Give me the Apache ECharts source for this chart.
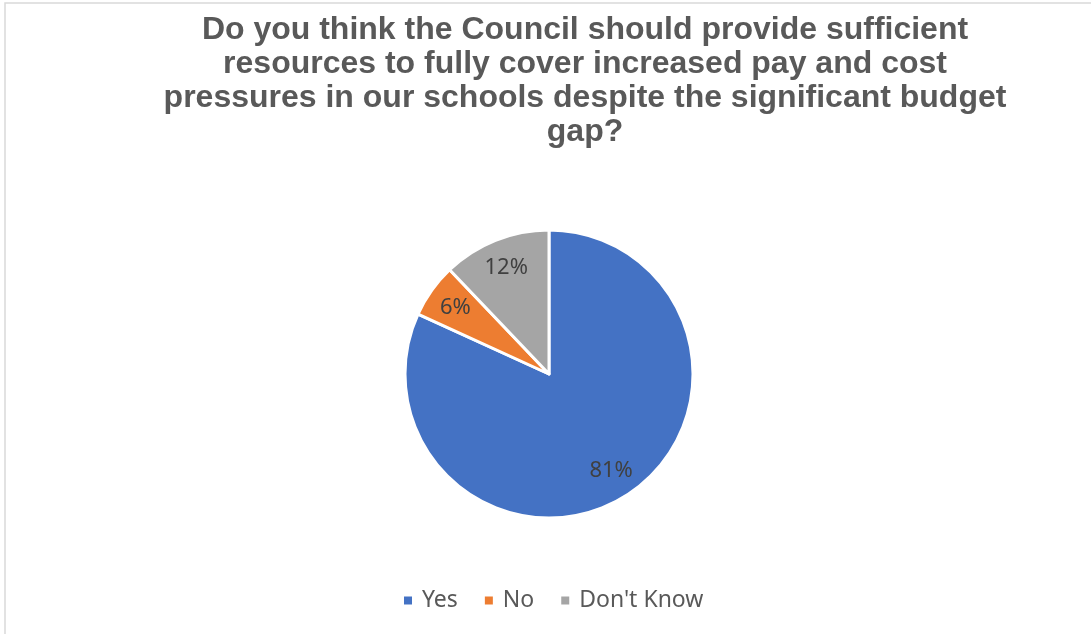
<!DOCTYPE html>
<html>
<head>
<meta charset="utf-8">
<script src="https://cdn.jsdelivr.net/npm/echarts@6/dist/echarts.min.js"></script>
<style>
  html, body { margin: 0; padding: 0; background: #fff; }
  #chart { width: 1091px; height: 634px; }
</style>
</head>
<body>
<div id="chart"></div>
<script>
// Survey answers and their shares (percent)
const categories = ['Yes', 'No', "Don't Know"];
const shares = [81, 6, 12];
const sliceColors = ['#4472C4', '#ED7D31', '#A5A5A5'];
const titleText = 'Do you think the Council should provide sufficient\nresources to fully cover increased pay and cost\npressures in our schools despite the significant budget\ngap?';

const pieData = categories.map((name, i) => ({ name, value: shares[i] }));

const chart = echarts.init(document.getElementById('chart'), null, { renderer: 'canvas' });

chart.setOption({
  backgroundColor: '#ffffff',
  animation: false,
  color: sliceColors,
  title: {
    text: titleText,
    left: 580,
    top: 8,
    textAlign: 'center',
    textStyle: {
      fontFamily: 'Liberation Sans, Arial, sans-serif',
      fontWeight: 'bold',
      fontSize: 32,
      lineHeight: 34,
      color: '#595959'
    }
  },
  legend: {
    data: categories,
    left: 397,
    top: 584,
    orient: 'horizontal',
    icon: 'rect',
    itemWidth: 10,
    itemHeight: 10,
    itemGap: 25,
    textStyle: {
      fontFamily: 'Noto Sans, Open Sans, sans-serif',
      fontSize: 23,
      color: '#595959',
      padding: [0, 0, 0, 4]
    }
  },
  graphic: [{
    type: 'rect',
    shape: { x: 5, y: 3, width: 1200, height: 800 },
    style: { fill: 'none', stroke: '#d9d9d9', lineWidth: 1.5 },
    silent: true,
    z: -1
  }],
  series: [
    {
      type: 'pie',
      center: [549, 374],
      radius: [0, 144],
      startAngle: 90,
      clockwise: true,
      data: pieData,
      label: { show: false },
      labelLine: { show: false },
      itemStyle: { borderColor: '#ffffff', borderWidth: 3 },
      emphasis: { disabled: true }
    },
    {
      // label ring: places the percentage text further out than the default inside position
      type: 'pie',
      center: [549, 374],
      radius: [80, 144],
      startAngle: 90,
      clockwise: true,
      silent: true,
      data: pieData,
      itemStyle: { color: 'rgba(0,0,0,0)', borderWidth: 0 },
      label: {
        show: true,
        position: 'inside',
        formatter: p => p.value + '%',
        fontFamily: 'Noto Sans, Open Sans, sans-serif',
        fontSize: 22,
        color: '#404040'
      },
      labelLine: { show: false },
      emphasis: { disabled: true }
    }
  ]
});
</script>
</body>
</html>
